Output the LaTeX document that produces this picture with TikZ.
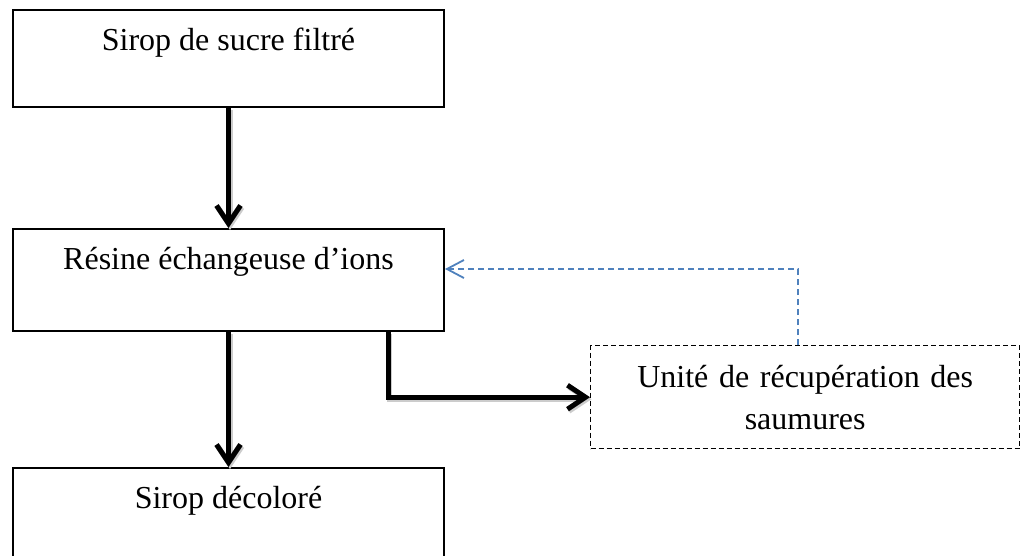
\documentclass[tikz,border=0pt]{standalone}
\usepackage{fontspec}
\setmainfont{Liberation Serif}
\usetikzlibrary{arrows.meta}
\definecolor{dashblue}{RGB}{79,129,189}
\tikzset{
  box/.style={draw=black, line width=2pt, inner sep=0pt, minimum width=431pt,
    text height=40pt, font=\fontsize{32}{40}\selectfont, anchor=north west},
  dbox/.style={draw=black, line width=1.4pt, dash pattern=on 5pt off 3pt, inner sep=0pt,
    minimum width=429pt, minimum height=103pt, text width=429pt, align=center,
    font=\fontsize{32}{42}\selectfont, anchor=north west},
  flow/.style={line width=5pt, -{Straight Barb[length=18pt,width=24pt]},
    preaction={draw=black!20, line width=5pt, transform canvas={shift={(1.5pt,-2pt)}}}},
  back/.style={draw=dashblue, line width=1.8pt, dash pattern=on 6.5pt off 3.5pt,
    -{Straight Barb[length=17pt,width=18pt]}},
}
\begin{document}
\begin{tikzpicture}[x=1pt,y=-1pt]
\clip (0,0) rectangle (1020,555);
\coordinate (e1) at (388,0);
\coordinate (e2) at (798,269);
\node[box, text depth=57pt] (b1) at (12,9) {Sirop de sucre filtré};
\node[box, text depth=62pt] (b2) at (12,228) {Résine échangeuse d’ions};
\node[box, text depth=80pt] (b3) at (12,467) {Sirop décoloré};
\node[dbox] (b4) at (590,345) {Unité de récupération des\\saumures};
\draw[flow] (b1.south) -- (b2.north);
\draw[flow] (b2.south) -- (b3.north);
\draw[flow] (b2.south -| e1) |- (b4.west);
\draw[back] (b4.north -| e2) |- (b2.east |- e2);
\end{tikzpicture}
\end{document}
